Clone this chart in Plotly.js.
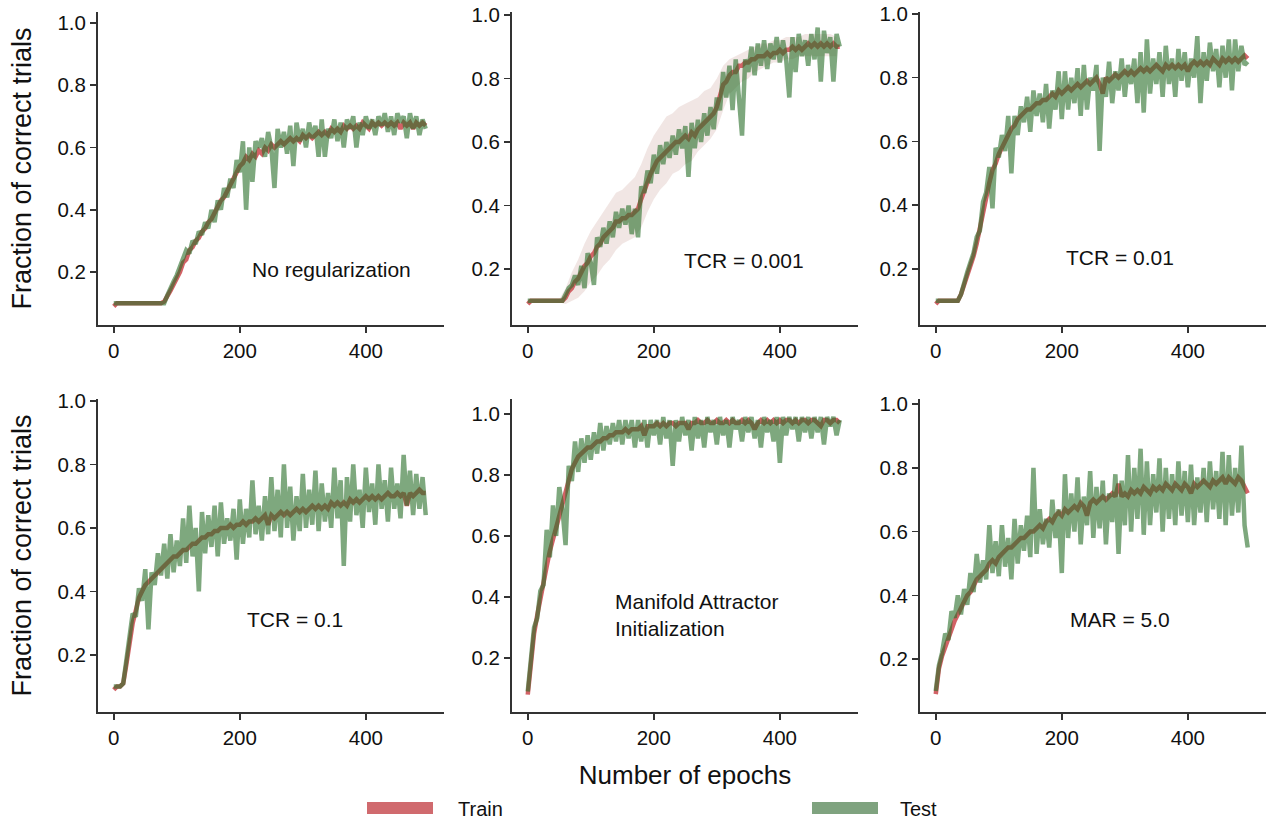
<!DOCTYPE html>
<html>
<head>
<meta charset="utf-8">
<script src="https://cdn.plot.ly/plotly-3.0.1.min.js"></script>
<style>html,body{margin:0;padding:0;background:#fff}#chart{width:1270px;height:822px}</style>
</head>
<body>
<div id="chart"></div>
<script>
// Epochs (every 5th epoch)
const epochs = [0,5,10,15,20,25,30,35,40,45,50,55,60,65,70,75,80,85,90,95,100,105,110,115,120,125,130,135,140,145,150,155,160,165,170,175,180,185,190,195,200,205,210,215,220,225,230,235,240,245,250,255,260,265,270,275,280,285,290,295,300,305,310,315,320,325,330,335,340,345,350,355,360,365,370,375,380,385,390,395,400,405,410,415,420,425,430,435,440,445,450,455,460,465,470,475,480,485,490,495];
const bandEpochs = [0,10,20,30,40,50,60,70,80,90,100,110,120,130,140,150,160,170,180,190,200,210,220,230,240,250,260,270,280,290,300,310,320,330,340,350,360,370,380,390,400,410,420,430,440,450,460,470,480,490];

const panelLabels = ["No regularization","TCR = 0.001","TCR = 0.01","TCR = 0.1","Manifold Attractor<br>Initialization","MAR = 5.0"];
const seriesNames = ["Train","Test"];
const xTickVals = [0,200,400];
const yTickVals = [0.2,0.4,0.6,0.8,1.0];
const yTickText = ["0.2","0.4","0.6","0.8","1.0"];

// Panel 1: No regularization
const p1Train = [0.09,0.10,0.10,0.10,0.10,0.10,0.10,0.10,0.10,0.10,0.10,0.10,0.10,0.10,0.10,0.10,0.105,0.12,0.14,0.16,0.18,0.20,0.23,0.24,0.27,0.28,0.30,0.31,0.33,0.34,0.36,0.37,0.39,0.41,0.43,0.44,0.46,0.48,0.50,0.52,0.54,0.55,0.57,0.56,0.58,0.57,0.59,0.58,0.60,0.59,0.61,0.60,0.61,0.62,0.61,0.62,0.63,0.62,0.63,0.62,0.64,0.63,0.64,0.63,0.64,0.65,0.64,0.65,0.64,0.66,0.65,0.66,0.65,0.67,0.66,0.67,0.66,0.67,0.66,0.68,0.67,0.66,0.68,0.67,0.68,0.67,0.68,0.67,0.68,0.67,0.68,0.66,0.68,0.67,0.68,0.66,0.68,0.67,0.68,0.67];
const p1Test = [0.10,0.10,0.10,0.10,0.10,0.10,0.10,0.10,0.10,0.10,0.10,0.10,0.10,0.10,0.10,0.10,0.10,0.125,0.15,0.17,0.19,0.22,0.24,0.27,0.26,0.30,0.29,0.33,0.32,0.36,0.34,0.40,0.36,0.43,0.40,0.47,0.44,0.50,0.47,0.56,0.52,0.62,0.40,0.60,0.49,0.62,0.60,0.63,0.57,0.65,0.60,0.47,0.66,0.60,0.65,0.58,0.67,0.54,0.68,0.62,0.66,0.60,0.68,0.63,0.67,0.57,0.69,0.57,0.66,0.63,0.69,0.62,0.68,0.60,0.69,0.66,0.70,0.60,0.68,0.64,0.70,0.66,0.69,0.64,0.70,0.67,0.71,0.65,0.70,0.64,0.71,0.68,0.70,0.63,0.71,0.66,0.70,0.64,0.69,0.66];

// Panel 2: TCR = 0.001
const p2Train = [0.09,0.10,0.10,0.10,0.10,0.10,0.10,0.10,0.10,0.10,0.10,0.10,0.11,0.13,0.14,0.16,0.17,0.19,0.21,0.22,0.24,0.25,0.27,0.28,0.30,0.31,0.32,0.33,0.35,0.35,0.36,0.36,0.37,0.37,0.38,0.39,0.42,0.45,0.48,0.50,0.52,0.54,0.55,0.56,0.57,0.58,0.59,0.60,0.60,0.61,0.62,0.61,0.63,0.62,0.64,0.65,0.66,0.67,0.68,0.69,0.71,0.75,0.78,0.79,0.81,0.82,0.82,0.84,0.84,0.85,0.85,0.86,0.86,0.87,0.87,0.87,0.88,0.87,0.88,0.88,0.89,0.88,0.89,0.89,0.90,0.89,0.90,0.89,0.90,0.91,0.90,0.91,0.90,0.91,0.90,0.91,0.90,0.91,0.90,0.90];
const p2Test = [0.10,0.10,0.10,0.10,0.10,0.10,0.10,0.10,0.10,0.10,0.10,0.10,0.12,0.14,0.15,0.18,0.15,0.21,0.14,0.25,0.22,0.15,0.30,0.27,0.33,0.28,0.35,0.30,0.38,0.33,0.39,0.34,0.40,0.31,0.39,0.30,0.46,0.44,0.51,0.47,0.56,0.50,0.59,0.53,0.60,0.55,0.62,0.56,0.64,0.58,0.65,0.49,0.66,0.58,0.67,0.60,0.69,0.62,0.71,0.64,0.74,0.70,0.82,0.74,0.84,0.70,0.86,0.73,0.62,0.86,0.82,0.90,0.81,0.91,0.84,0.92,0.83,0.91,0.86,0.93,0.85,0.92,0.86,0.74,0.93,0.82,0.94,0.87,0.92,0.84,0.94,0.86,0.96,0.79,0.95,0.88,0.93,0.79,0.94,0.90];
const p2BandLow = [0.095,0.095,0.095,0.095,0.095,0.095,0.09,0.10,0.11,0.13,0.16,0.18,0.21,0.23,0.26,0.28,0.29,0.30,0.33,0.38,0.42,0.45,0.47,0.50,0.51,0.53,0.54,0.57,0.59,0.61,0.64,0.70,0.75,0.77,0.79,0.80,0.82,0.83,0.84,0.85,0.85,0.86,0.86,0.87,0.87,0.87,0.87,0.87,0.87,0.87];
const p2BandHigh = [0.105,0.105,0.105,0.105,0.105,0.105,0.14,0.19,0.23,0.28,0.32,0.35,0.38,0.41,0.44,0.45,0.47,0.49,0.53,0.58,0.62,0.65,0.68,0.69,0.71,0.72,0.73,0.74,0.76,0.77,0.80,0.84,0.86,0.87,0.88,0.89,0.90,0.91,0.91,0.92,0.92,0.93,0.93,0.93,0.94,0.94,0.94,0.94,0.94,0.93];

// Panel 3: TCR = 0.01
const p3Train = [0.09,0.10,0.10,0.10,0.10,0.10,0.10,0.10,0.12,0.15,0.18,0.20,0.24,0.28,0.33,0.38,0.43,0.47,0.51,0.53,0.56,0.58,0.60,0.62,0.64,0.65,0.67,0.68,0.69,0.70,0.70,0.71,0.72,0.72,0.73,0.73,0.74,0.75,0.74,0.76,0.75,0.76,0.77,0.76,0.77,0.78,0.77,0.78,0.79,0.78,0.79,0.80,0.78,0.75,0.80,0.79,0.80,0.81,0.80,0.81,0.82,0.81,0.82,0.81,0.82,0.83,0.82,0.83,0.82,0.83,0.84,0.83,0.82,0.84,0.83,0.84,0.83,0.84,0.83,0.84,0.82,0.84,0.85,0.84,0.85,0.84,0.85,0.84,0.86,0.85,0.84,0.86,0.85,0.86,0.85,0.86,0.85,0.86,0.87,0.86];
const p3Test = [0.10,0.10,0.10,0.10,0.10,0.10,0.10,0.10,0.12,0.16,0.19,0.22,0.25,0.30,0.32,0.41,0.44,0.52,0.39,0.58,0.55,0.62,0.57,0.68,0.50,0.68,0.62,0.71,0.66,0.74,0.63,0.76,0.68,0.75,0.66,0.78,0.64,0.76,0.70,0.82,0.67,0.82,0.70,0.80,0.72,0.83,0.68,0.84,0.70,0.80,0.76,0.84,0.57,0.80,0.74,0.85,0.72,0.82,0.76,0.86,0.74,0.84,0.78,0.86,0.72,0.88,0.69,0.92,0.75,0.86,0.78,0.88,0.74,0.90,0.78,0.86,0.74,0.89,0.79,0.88,0.77,0.86,0.80,0.93,0.72,0.88,0.79,0.91,0.82,0.89,0.77,0.90,0.80,0.92,0.76,0.92,0.82,0.90,0.84,0.85];

// Panel 4: TCR = 0.1
const p4Train = [0.09,0.10,0.10,0.11,0.17,0.24,0.30,0.34,0.38,0.40,0.42,0.43,0.44,0.45,0.46,0.47,0.48,0.49,0.50,0.51,0.51,0.52,0.53,0.53,0.54,0.55,0.55,0.56,0.57,0.57,0.58,0.58,0.59,0.59,0.60,0.60,0.60,0.61,0.60,0.61,0.61,0.62,0.61,0.62,0.62,0.63,0.62,0.63,0.64,0.61,0.64,0.63,0.64,0.65,0.64,0.65,0.64,0.65,0.66,0.65,0.66,0.65,0.66,0.67,0.66,0.67,0.66,0.67,0.66,0.68,0.67,0.68,0.67,0.68,0.67,0.69,0.68,0.69,0.68,0.69,0.70,0.69,0.70,0.69,0.70,0.69,0.70,0.71,0.70,0.70,0.71,0.70,0.71,0.67,0.71,0.70,0.71,0.72,0.71,0.71];
const p4Test = [0.10,0.10,0.10,0.11,0.18,0.24,0.33,0.32,0.41,0.37,0.47,0.28,0.46,0.42,0.52,0.45,0.55,0.44,0.58,0.46,0.56,0.48,0.63,0.49,0.67,0.51,0.60,0.40,0.65,0.52,0.64,0.54,0.67,0.51,0.68,0.55,0.63,0.56,0.66,0.50,0.69,0.55,0.66,0.57,0.75,0.58,0.67,0.56,0.70,0.58,0.76,0.59,0.72,0.57,0.80,0.60,0.73,0.56,0.70,0.59,0.77,0.60,0.72,0.61,0.78,0.59,0.74,0.62,0.71,0.60,0.79,0.63,0.75,0.48,0.76,0.62,0.80,0.64,0.72,0.60,0.79,0.65,0.74,0.61,0.80,0.66,0.75,0.62,0.79,0.66,0.74,0.63,0.83,0.67,0.78,0.64,0.77,0.66,0.76,0.64];

// Panel 5: Manifold Attractor Initialization
const p5Train = [0.08,0.19,0.28,0.34,0.40,0.45,0.50,0.55,0.59,0.63,0.67,0.71,0.75,0.79,0.82,0.84,0.86,0.87,0.88,0.89,0.89,0.90,0.91,0.91,0.92,0.92,0.93,0.93,0.94,0.94,0.94,0.95,0.94,0.95,0.95,0.95,0.96,0.93,0.96,0.96,0.96,0.97,0.96,0.97,0.96,0.97,0.97,0.96,0.97,0.97,0.97,0.95,0.97,0.97,0.98,0.97,0.97,0.98,0.97,0.97,0.98,0.97,0.97,0.98,0.97,0.98,0.97,0.97,0.98,0.97,0.98,0.97,0.95,0.97,0.98,0.97,0.98,0.97,0.98,0.97,0.98,0.97,0.98,0.98,0.97,0.98,0.97,0.98,0.98,0.97,0.98,0.98,0.97,0.96,0.98,0.98,0.97,0.98,0.98,0.97];
const p5Test = [0.09,0.21,0.30,0.33,0.42,0.44,0.62,0.53,0.70,0.60,0.76,0.69,0.57,0.83,0.78,0.91,0.81,0.92,0.84,0.93,0.85,0.94,0.87,0.97,0.88,0.96,0.90,0.97,0.91,0.98,0.90,0.98,0.92,0.98,0.89,0.98,0.91,0.98,0.89,0.98,0.93,0.98,0.90,0.99,0.92,0.98,0.83,0.98,0.91,0.99,0.93,0.98,0.88,0.99,0.92,0.98,0.89,0.99,0.94,0.98,0.90,0.99,0.93,0.98,0.89,0.99,0.95,0.98,0.91,0.99,0.94,0.99,0.92,0.98,0.89,0.99,0.94,0.98,0.91,0.99,0.84,0.99,0.93,0.99,0.95,0.99,0.91,0.99,0.94,0.99,0.92,0.99,0.94,0.99,0.90,0.99,0.96,0.99,0.93,0.98];

// Panel 6: MAR = 5.0
const p6Train = [0.09,0.17,0.21,0.24,0.27,0.30,0.32,0.34,0.36,0.38,0.40,0.41,0.43,0.45,0.46,0.47,0.48,0.50,0.51,0.50,0.52,0.53,0.54,0.55,0.55,0.56,0.57,0.58,0.58,0.59,0.60,0.60,0.61,0.62,0.61,0.63,0.64,0.63,0.65,0.66,0.65,0.67,0.66,0.67,0.68,0.67,0.69,0.68,0.65,0.69,0.70,0.69,0.70,0.71,0.70,0.71,0.72,0.71,0.75,0.71,0.72,0.71,0.73,0.72,0.73,0.72,0.74,0.73,0.72,0.74,0.73,0.74,0.73,0.75,0.74,0.73,0.75,0.74,0.73,0.75,0.74,0.72,0.75,0.74,0.75,0.76,0.75,0.74,0.76,0.75,0.76,0.77,0.75,0.77,0.76,0.75,0.77,0.76,0.74,0.72];
const p6Test = [0.10,0.18,0.22,0.28,0.26,0.35,0.33,0.40,0.34,0.42,0.37,0.47,0.41,0.53,0.44,0.51,0.45,0.62,0.47,0.57,0.46,0.62,0.49,0.58,0.45,0.64,0.50,0.62,0.54,0.65,0.52,0.80,0.53,0.67,0.56,0.64,0.55,0.70,0.58,0.67,0.47,0.78,0.58,0.72,0.60,0.77,0.56,0.71,0.62,0.79,0.58,0.74,0.61,0.76,0.56,0.72,0.63,0.78,0.53,0.76,0.62,0.84,0.60,0.80,0.64,0.86,0.59,0.82,0.62,0.78,0.66,0.83,0.60,0.80,0.64,0.78,0.62,0.82,0.65,0.79,0.63,0.81,0.62,0.77,0.66,0.80,0.63,0.82,0.67,0.79,0.64,0.85,0.62,0.84,0.65,0.80,0.66,0.87,0.62,0.55];

const trainSeries = [p1Train,p2Train,p3Train,p4Train,p5Train,p6Train];
const testSeries = [p1Test,p2Test,p3Test,p4Test,p5Test,p6Test];

// ---------- styling / layout (not data) ----------
const W = 1270, H = 822;
const trainColor = 'rgb(210,98,102)';
const testColor = 'rgba(40,110,40,0.6)';
const xDomPx = [[98,444],[512,858],[920,1266]];
const yDomPx = [[12,325],[399,712]]; // top, bottom in pixels
const yRanges = [[0.030,1.035],[0.024,1.009],[0.024,1.006],[0.020,1.006],[0.023,1.049],[0.034,1.016]];

const traces = [];
// std band (panel 2)
traces.push({x: bandEpochs, y: p2BandLow, xaxis:'x2', yaxis:'y2', mode:'lines', line:{width:0, color:'rgba(0,0,0,0)'}, showlegend:false, hoverinfo:'skip'});
traces.push({x: bandEpochs, y: p2BandHigh, xaxis:'x2', yaxis:'y2', mode:'lines', fill:'tonexty', fillcolor:'rgba(200,160,150,0.26)', line:{width:0, color:'rgba(0,0,0,0)'}, showlegend:false, hoverinfo:'skip'});

for (let k = 0; k < 6; k++) {
  const s = k === 0 ? '' : String(k + 1);
  traces.push({x: epochs, y: trainSeries[k], xaxis:'x'+s, yaxis:'y'+s, mode:'lines', name: seriesNames[0],
    line:{color: trainColor, width:4.5}, showlegend:false});
  traces.push({x: epochs, y: testSeries[k], xaxis:'x'+s, yaxis:'y'+s, mode:'lines', name: seriesNames[1],
    line:{color: testColor, width:4.5}, showlegend:false});
}

const layout = {
  width: W, height: H,
  margin: {l:0, r:0, t:0, b:0},
  paper_bgcolor: '#fff', plot_bgcolor: '#fff',
  font: {family: 'Liberation Sans, Arial, sans-serif', color: '#111', size: 20},
  showlegend: false,
  annotations: [],
  shapes: []
};

for (let k = 0; k < 6; k++) {
  const col = k % 3, row = Math.floor(k / 3);
  const s = k === 0 ? '' : String(k + 1);
  const xd = [xDomPx[col][0] / W, xDomPx[col][1] / W];
  const yd = [1 - yDomPx[row][1] / H, 1 - yDomPx[row][0] / H];
  layout['xaxis' + s] = {
    domain: xd, anchor: 'y' + s, range: [-25, 524],
    tickvals: xTickVals, ticks: 'outside', ticklen: 6, tickwidth: 1.5, tickcolor: '#333',
    showline: true, linecolor: '#333', linewidth: 2, showgrid: false, zeroline: false,
    tickfont: {size: 20.5, color: '#111'}, fixedrange: true
  };
  layout['yaxis' + s] = {
    domain: yd, anchor: 'x' + s, range: yRanges[k],
    tickvals: yTickVals, ticktext: yTickText, ticks: 'outside', ticklen: 6, tickwidth: 1.5, tickcolor: '#333',
    showline: true, linecolor: '#333', linewidth: 2, showgrid: false, zeroline: false,
    tickfont: {size: 20.5, color: '#111'}, fixedrange: true
  };
  if (col === 0) {
    layout['yaxis' + s].title = {text: 'Fraction of correct trials', font: {size: 27, color: '#111'}, standoff: 18};
  }
}
layout.xaxis5.title = {text: 'Number of epochs', font: {size: 26, color: '#111'}, standoff: 18};

// panel labels
const labelPos = [[331,270,'center'],[744,260,'center'],[1120,257,'center'],[295,619,'center'],[613,615,'left'],[1120,619,'center']];
for (let k = 0; k < 6; k++) {
  const p = labelPos[k];
  layout.annotations.push({text: panelLabels[k], xref:'paper', yref:'paper', x: p[0] / W, y: 1 - p[1] / H,
    xanchor: p[2], yanchor:'middle', align:'left', showarrow:false, font:{size:21, color:'#111'}});
}

// legend (patches + labels)
const legendItems = [[367, 433, 456, seriesNames[0], 'rgb(208,106,110)'], [812, 878, 898, seriesNames[1], 'rgb(127,163,127)']];
for (const it of legendItems) {
  layout.shapes.push({type:'rect', xref:'paper', yref:'paper', x0: it[0]/W, x1: it[1]/W, y0: 1-814/H, y1: 1-802/H,
    fillcolor: it[4], line:{width:0}});
  layout.annotations.push({text: it[3], xref:'paper', yref:'paper', x: it[2]/W, y: 1-809/H, xanchor:'left', yanchor:'middle',
    showarrow:false, font:{size:20, color:'#111'}});
}

Plotly.newPlot('chart', traces, layout, {displayModeBar:false, staticPlot:true});
</script>
</body>
</html>
